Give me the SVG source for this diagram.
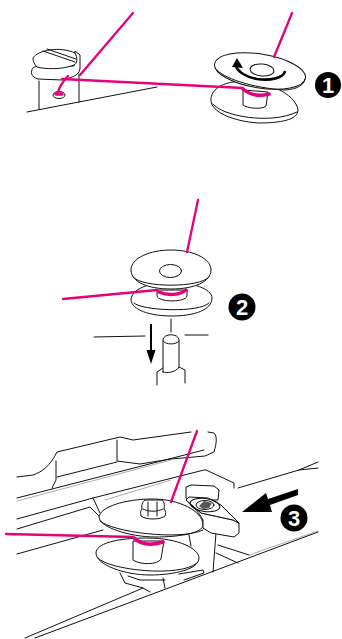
<svg xmlns="http://www.w3.org/2000/svg" width="342" height="639" viewBox="0 0 342 639">
<style>
.l{fill:none;stroke:#111;stroke-width:1;stroke-linecap:round;stroke-linejoin:round}
.t{fill:none;stroke:#888;stroke-width:.7}
.d{fill:#fff;stroke:#111;stroke-width:1}
.p{fill:none;stroke:#e6007e;stroke-width:2.300;stroke-linecap:round;stroke-linejoin:round}
.w{fill:none;stroke:#e6007e;stroke-width:3.500;stroke-linecap:round}
.b{fill:#000}
.n{fill:#fff;font-family:"Liberation Sans",Arial,sans-serif;font-weight:700;font-size:22px;text-anchor:middle}
</style>
<rect width="342" height="639" fill="#fff"/>
<g id="panel-1">
<g id="tension-post">
<path class="l" d="M27 112L157 87M39 81V109M79 74V102"/>
<path class="d" d="M33 68C30 72 31 77 38 79L62 80C70 78 79 76 80 69L80 55 75 51 74 66 36 66Z"/>
<path class="d" d="M33 58C38 50 60 46 75 53 78 58 77 64 74 65 62 70 44 69 37 67 34 64 33 61 33 58Z"/>
<path class="l" d="M43 51L75 62M47 49L76 59"/>
<ellipse class="d" cx="59" cy="95" rx="6" ry="3.500"/>
<path class="w" d="M56 94H62"/>
<path class="p" d="M68 76C63 82 60 85 58 92"/>
</g>
<g id="bobbin-1">
<path class="d" d="M211 101C210 92 219 84 233 82 265 78 296 94 298 110 298 120 280 123 258 123 232 121 212 112 211 101Z"/>
<path class="l" d="M213 104C222 116 270 125 297 112"/>
<path class="d" d="M243 90V105C246 108 262 110 266 106L268 92Z"/>
<path class="w" d="M243 89C250 95 258 97 269 94"/>
<ellipse class="d" cx="260" cy="71" rx="46" ry="17" transform="rotate(9 260 71)"/>
<path class="l" d="M215 68C222 78 252 88 285 90 298 89 304 85 305 79"/>
<ellipse class="l" cx="262" cy="70" rx="12" ry="6" transform="rotate(5 262 70)"/>
<path fill="none" stroke="#000" stroke-width="2.600" d="M285 71C284 78 270 81 257 79 246 77 238 72 236 66"/>
<path class="b" d="M237 58L243 68 232 67Z"/>
</g>
<g id="thread-1">
<path class="p" d="M133 13L80 75M62 79L243 88M292 13L274 57"/>
</g>
<circle class="b" cx="328" cy="85" r="13"/><text class="n" x="328" y="93">1</text>
</g>
<g id="panel-2">
<g id="bobbin-2">
<path class="d" d="M131 300C131 289 150 282 171 282S212 289 212 298C212 310 194 316 172 316S132 310 131 300Z"/>
<path class="l" d="M134 303C142 311 200 313 209 303"/>
<path class="d" d="M157 290V296C158 302 185 303 187 296V290Z"/>
<path class="w" d="M159 292C168 296 180 295 186 290"/>
<path class="d" d="M131 270C131 258 150 250 171 250S211 258 211 270C211 282 194 289 171 289S131 282 131 270Z"/>
<path class="l" d="M133 277C142 288 200 288 209 277"/>
<ellipse class="l" cx="170.500" cy="271" rx="11" ry="6.500"/>
</g>
<g id="thread-2"><path class="p" d="M198 200L187 252M63 299L157 290"/></g>
<g id="arrow-2">
<path class="l" d="M94 337L145 336M185 335H208M171 319V332"/>
<path class="b" d="M150 324H152V350H155.500L151 364 146.500 350H150Z"/>
</g>
<g id="spindle">
<path class="l" d="M163 372V340C163 333 179 333 179 340V367C175 373 167 373 163 372ZM163 341C166 345 176 345 179 341M157 385V372L163 368M185 383V370L179 367"/>
</g>
<circle class="b" cx="242" cy="307" r="13.500"/><text class="n" x="242" y="315">2</text>
</g>
<g id="panel-3">
<g id="machine-bed">
<path class="l" d="M17 477L33 475C42 472 50 466 57 452L120 437 133 440 191 432M208 432L214 433C217 436 217 442 214 452L205 456 171 459 140 464 117 461V440M56 461V480L52 488M57 477L117 462M17 498L204 450M17 519L93 498 100 513M93 498L204 470 206 470 234 483V488M17 529L90 507 100 517M17 554L103 530M25 638L143 588 150 592M35 638L318 532M218 545L249 555M216 553L238 563M238 488L299 470 318 462M299 470L318 468M120 573L125 583 143 588M128 576L140 580 165 580M163 578L165 588"/>
<path class="t" d="M17 501L171 460M105 500L171 480M249 555L318 531"/>
</g>
<g id="bobbin-3">
<path class="d" d="M96 553C96 544 115 538 147 538S199 549 199 558C199 569 175 575 150 575S96 565 96 553Z"/>
<path class="l" d="M98 558C108 570 180 578 197 563"/>
<path class="d" d="M133 541V560C140 565 158 565 161 559L164 541Z"/>
<path class="w" d="M134 538C140 544 150 546 163 542"/>
<path class="l" d="M189 535L191 546M216 533L213 572M179 574L203 570 204 573 184 580"/>
<path class="d" d="M99 517C100 507 125 499 152 499S203 511 203 525C203 533 180 537 155 537S99 527 99 517Z"/>
<path class="l" d="M100 521C112 532 180 541 203 530"/>
<path class="d" d="M141 516C140 512 141 510 142 509 141 505 143 500 146 500H161C164 500 165 505 164 509 166 511 166 514 165 516 160 520 146 520 141 516Z"/>
<path class="l" d="M143 509C148 512 158 512 163 509M148 502V516M157 502V516"/>
</g>
<g id="thread-3"><path class="p" d="M197 431L171 502M6 534L133 537"/></g>
<g id="lever">
<path class="d" d="M186 498V487L191 485 214 486 219 490 218 500H190Z"/>
<path class="d" d="M186 500L201 513 233 520 239 523 239 533 234 537 211 533 203 528 203 520C198 510 190 505 186 500Z"/>
<path class="d" d="M186 500L189 497 208 498 221 505 239 523 233 520 201 513Z"/>
<ellipse class="l" cx="205" cy="505" rx="15" ry="6.500" transform="rotate(8 205 505)"/>
<ellipse class="l" cx="205" cy="505" rx="9" ry="4.500"/>
<path d="M199 506L204 501 212 503 209 508 203 509Z" fill="#555"/>
</g>
<g id="arrow-3"><path class="b" d="M242 512L266 493 268 499 298 489 298 495 270 505 272 512Z"/></g>
<circle class="b" cx="294" cy="518" r="13.500"/><text class="n" x="294" y="526">3</text>
</g>
</svg>
